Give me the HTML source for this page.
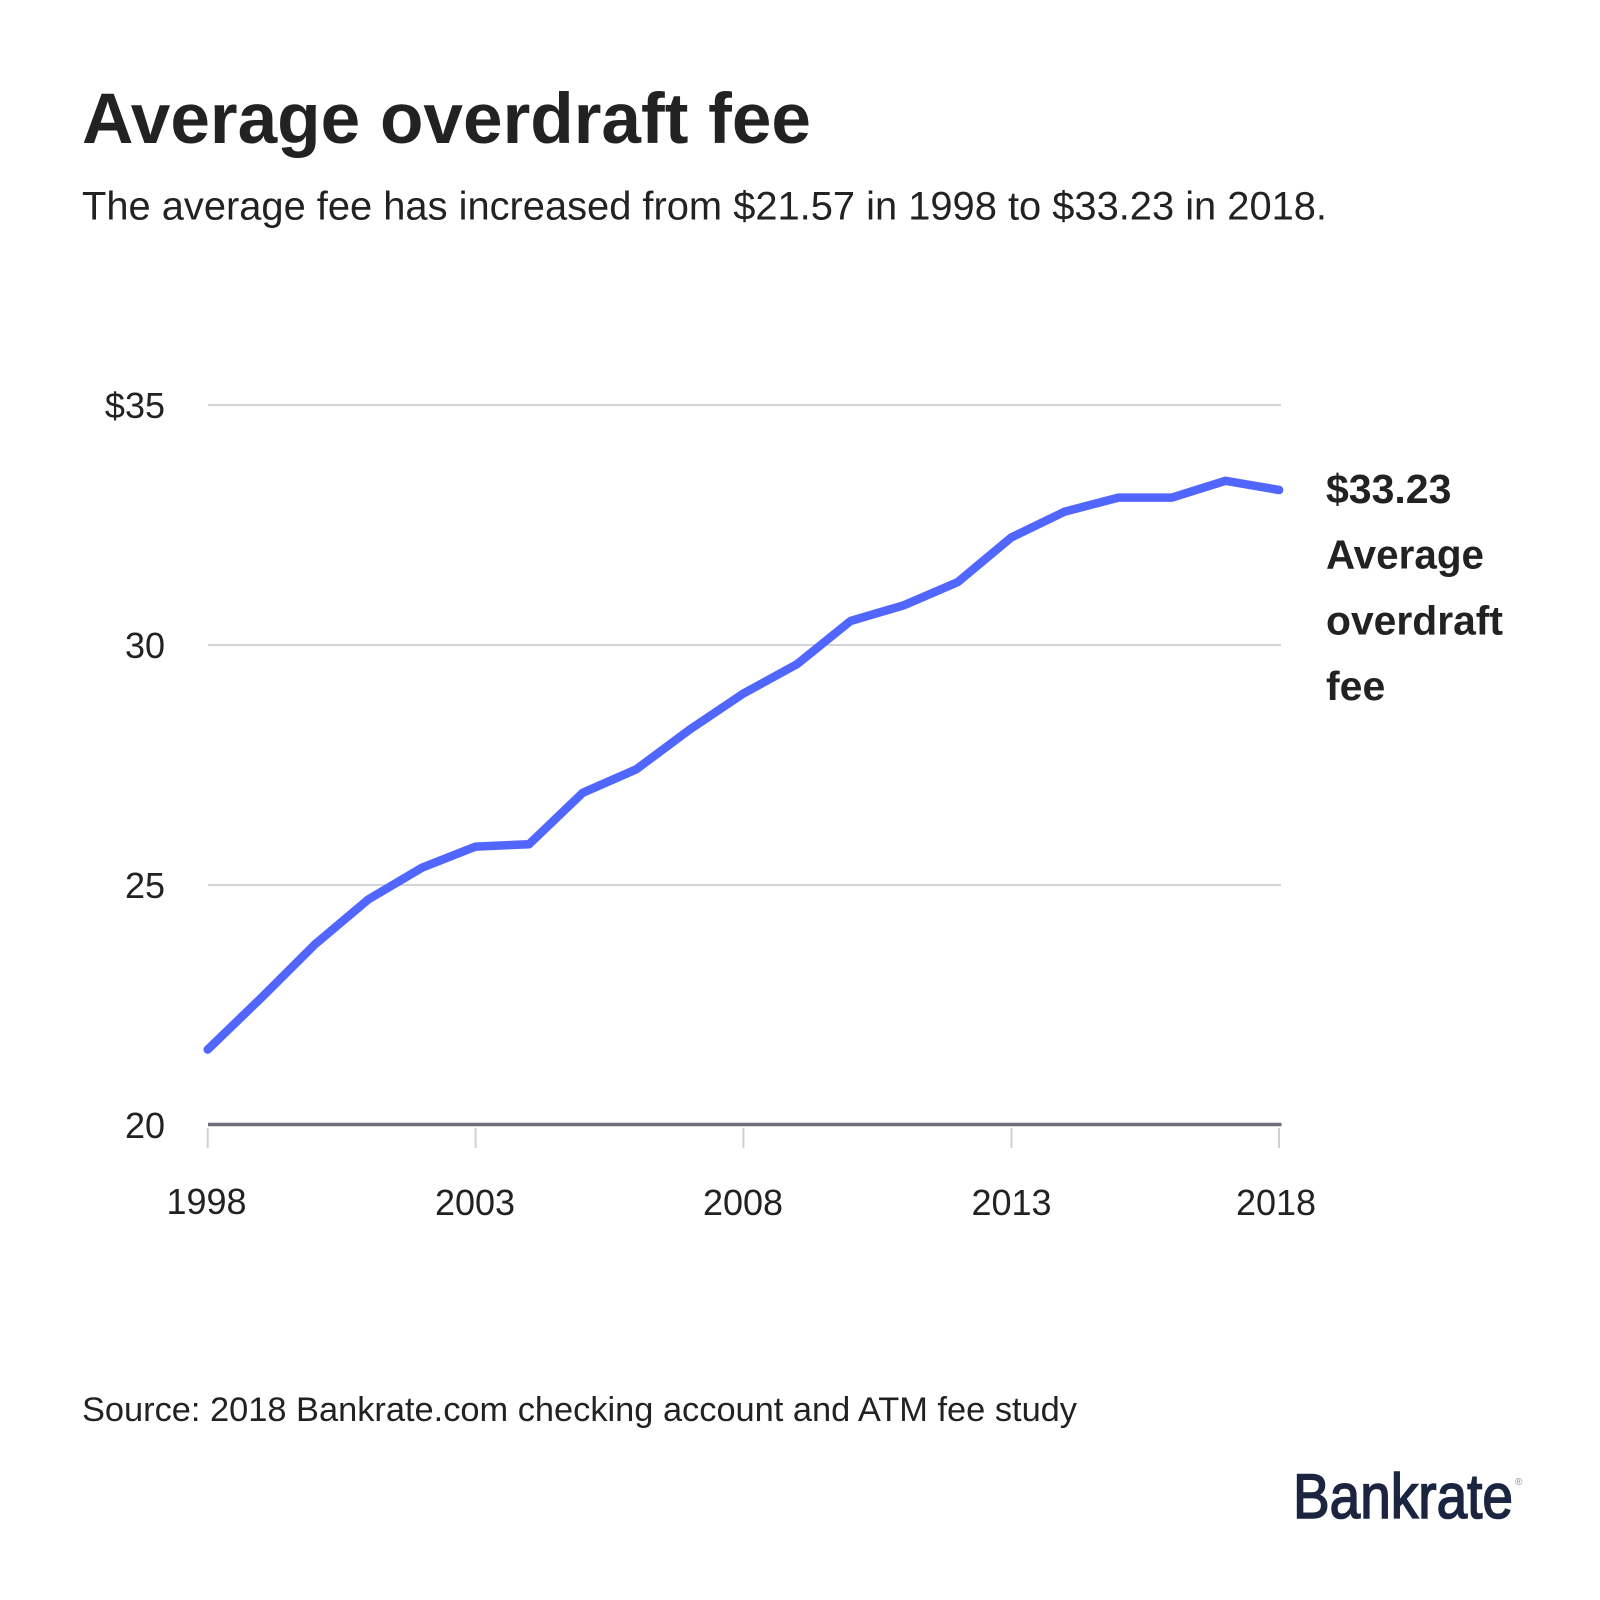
<!DOCTYPE html>
<html>
<head>
<meta charset="utf-8">
<style>
  html, body { margin: 0; padding: 0; background: #ffffff; }
  body { width: 1600px; height: 1600px; overflow: hidden; }
  svg { display: block; }
  text { font-family: "Liberation Sans", Arial, sans-serif; fill: #222222; }
</style>
</head>
<body>
<svg width="1600" height="1600" viewBox="0 0 1600 1600" xmlns="http://www.w3.org/2000/svg">
  <rect x="0" y="0" width="1600" height="1600" fill="#ffffff"/>

  <!-- Title & subtitle -->
  <text x="82" y="143" font-size="71" font-weight="bold" textLength="729" lengthAdjust="spacingAndGlyphs">Average overdraft fee</text>
  <text x="82" y="219.5" font-size="40" textLength="1245" lengthAdjust="spacingAndGlyphs">The average fee has increased from $21.57 in 1998 to $33.23 in 2018.</text>

  <!-- Gridlines -->
  <g stroke="#d4d4d8" stroke-width="2">
    <line x1="208" y1="405" x2="1281" y2="405"/>
    <line x1="208" y1="645" x2="1281" y2="645"/>
    <line x1="208" y1="885" x2="1281" y2="885"/>
  </g>

  <!-- Y labels -->
  <g font-size="36" text-anchor="end">
    <text x="165" y="418">$35</text>
    <text x="165" y="658">30</text>
    <text x="165" y="898">25</text>
    <text x="165" y="1138">20</text>
  </g>

  <!-- X axis -->
  <line x1="208" y1="1124.5" x2="1281.5" y2="1124.5" stroke="#6e6e78" stroke-width="3.5"/>
  <g stroke="#d0d0d4" stroke-width="2">
    <line x1="207.7" y1="1128" x2="207.7" y2="1148"/>
    <line x1="475.6" y1="1128" x2="475.6" y2="1148"/>
    <line x1="743.4" y1="1128" x2="743.4" y2="1148"/>
    <line x1="1011.5" y1="1128" x2="1011.5" y2="1148"/>
    <line x1="1279" y1="1128" x2="1279" y2="1148"/>
  </g>
  <g font-size="36" text-anchor="middle">
    <text x="206.5" y="1214">1998</text>
    <text x="475" y="1215">2003</text>
    <text x="743" y="1215">2008</text>
    <text x="1011.5" y="1215">2013</text>
    <text x="1276" y="1215">2018</text>
  </g>

  <!-- Data line -->
  <polyline fill="none" stroke="#5066ff" stroke-width="8.5" stroke-linecap="round" stroke-linejoin="round"
    points="207.7,1049.6 261.3,997.8 314.8,944.5 368.4,899.4 422.0,867.7 475.6,846.6 529.1,844.2 582.7,792.8 636.3,769.3 689.8,729.5 743.4,693.5 797.0,664.2 850.5,621 904.1,605.2 957.7,582.1 1011.2,537.5 1064.8,511.6 1118.4,497.6 1172.0,497.6 1225.5,480.8 1279.1,490"/>

  <!-- End label -->
  <g font-size="41" font-weight="bold">
    <text x="1326" y="503">$33.23</text>
    <text x="1326" y="568.5" textLength="158" lengthAdjust="spacingAndGlyphs">Average</text>
    <text x="1326" y="634.5" textLength="177" lengthAdjust="spacingAndGlyphs">overdraft</text>
    <text x="1326" y="700">fee</text>
  </g>

  <!-- Source -->
  <text x="82" y="1421" font-size="34" textLength="995" lengthAdjust="spacingAndGlyphs">Source: 2018 Bankrate.com checking account and ATM fee study</text>

  <!-- Logo -->
  <text x="1293" y="1518" font-size="63" textLength="220" lengthAdjust="spacingAndGlyphs" style="fill:#1b2540" stroke="#1b2540" stroke-width="1.6">Bankrate</text>
  <text x="1515" y="1485" font-size="10" style="fill:#8a8f9c">®</text>
</svg>
</body>
</html>
